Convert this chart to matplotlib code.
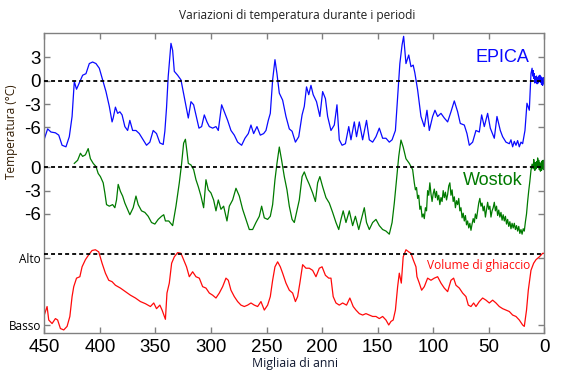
import matplotlib
matplotlib.use("Agg")
import matplotlib.pyplot as plt
import numpy as np

# ---------------- data ----------------
epica_age = [450, 447, 444, 440, 437, 434, 430.5, 427.5, 425, 423, 421, 418, 415.5, 412.5,
             409.5, 406.5, 403.5, 400.5, 397.5, 394.5, 391.5, 389, 388, 386, 384, 382, 380,
             377.5, 375, 373, 370.5, 367.5, 364.5, 361, 358, 355, 352, 349, 346, 343, 341.5,
             340, 338.5, 337, 336, 334.5, 333, 330, 327, 324, 320.4, 318, 315.6, 313.5, 310.8,
             308.4, 306, 303.6, 301.5, 298.5, 295.5, 293.4, 290.4, 288, 285, 282, 279, 276,
             272.4, 269.4, 266.4, 264, 261.6, 258.6, 255.6, 252.6, 250.5, 248.4, 246.6, 244.5,
             242.4, 240.6, 238.5, 235.5, 232.5, 229.5, 227, 224, 221, 218, 216, 214, 212, 210,
             208, 205, 202, 199.5, 197, 195, 192, 189, 186.6, 184.5, 182, 179, 176, 174, 171,
             169, 166.5, 163.5, 160, 157.5, 154.5, 151.5, 148.5, 145.5, 142.5, 139.5, 137, 134,
             132, 130, 128, 126.6, 124.5, 122, 120, 118, 116.5, 114, 112, 111, 108, 105.6,
             103.5, 100.5, 98.4, 96, 93, 90, 87, 84, 81, 78, 75.6, 72, 69.6, 67.5, 64.5, 61.5,
             58.5, 56.4, 54, 51, 48.6, 45, 42.6, 39.6, 37.5, 34.5, 31.5, 30, 28.5, 27, 25.5, 24,
             22.5, 21, 19.5, 17.4, 15.6, 13.5, 12, 11, 10.5, 10, 9.5, 9, 8.5, 8, 7.5, 7, 6.5, 6,
             5.5, 5, 4.5, 4, 3.5, 3, 2.5, 2, 1.5, 1, 0.5, 0]
epica_temp = [-7.5, -6.2, -6.6, -6.7, -7.0, -8.3, -8.5, -7.2, -4.6, -0.1, -1.1, -0.1, 0.7, 0.9,
              2.2, 2.4, 2.2, 1.6, 0.1, -1.4, -3.3, -5.3, -4.8, -3.4, -4.2, -4.0, -4.4,
              -5.9, -6.4, -5.1, -6.4, -6.4, -6.8, -7.6, -8.3, -7.9, -6.4, -6.8, -8.0, -8.2, -6.5,
              -3.5, 0.5, 3.0, 4.8, 3.9, 1.2, 0.7, 0.1, -2.1, -4.8, -2.7, -3.1, -4.4, -6.1,
              -5.9, -4.4, -5.3, -5.9, -6.1, -5.9, -6.4, -3.1, -4.0, -5.1, -6.4, -7.0, -7.9,
              -8.3, -7.4, -6.8, -5.7, -6.8, -5.9, -7.0, -6.8, -6.4, -5.1, -4.2, 0.1,
              2.7, 0.9, -1.6, -2.5, -4.6, -6.2, -6.5, -7.9, -7.2, -4.4, -3.3, -0.8, -1.8, -0.6,
              -1.8, -2.7, -4.6, -1.4, -2.3, -4.6, -6.4, -5.7, -3.1, -7.6, -8.3, -8.1, -5.9, -7.6, -5.3,
              -7.2, -5.3, -7.6, -5.1, -7.6, -7.9, -7.2, -6.1, -7.4, -7.4, -7.9, -7.6, -6.4,
              -2.1, 2.2, 4.6, 5.7, 2.2, 3.3, 1.8, 2.0, 1.0, -1.2, -3.5, -4.6, -5.9, -3.8,
              -6.4, -4.6, -3.8, -4.6, -4.2, -4.8, -5.3, -4.0, -2.6, -4.0, -5.5, -5.7, -6.8, -8.3, -7.9, -6.4,
              -6.6, -4.4, -5.9, -4.2, -6.1, -7.4, -4.6, -6.4, -7.2, -7.9, -8.1, -7.6, -8.5, -7.8, -8.3, -7.7,
              -8.5, -7.9, -8.1, -6.4, -2.9, -3.8, 0.9, 1.6, 0.6, 1.3, 0.3, 0.9, -0.3, 0.5, -0.2, 0.6, -0.4, 0.4,
              -0.3, 0.6, -0.1, 0.7, -0.2, 0.5, -0.5, 0.3, -0.6, 0.4, -0.4, 0.2]

wostok_age = [423, 420, 417.5, 415.5, 413, 410.5, 408.5, 406, 403.5, 401.5, 399.5, 397, 395.5,
              394, 391.5, 388.5, 386.5, 385, 383.5, 381.5, 379.5, 377.5, 373, 370, 367.5, 365.5,
              362.5, 359.5, 356.5, 353.5, 350.5, 347.5, 344.5, 342.5, 341, 338, 334.5, 331.5,
              328.5, 326.4, 324.6, 323, 321.6, 320.4, 318, 315.6, 313.5, 311.4, 309, 306.6,
              304.5, 302.4, 300, 297.6, 295.5, 293.4, 291, 288.6, 285.6, 283.5, 280.5, 277.5,
              274.5, 271.5, 268.5, 265.5, 262.5, 259.5, 256.5, 254.4, 252, 249, 246.6, 244.5,
              242.4, 240.6, 238.5, 236.4, 234, 231.6, 229.5, 227, 225, 223, 220.5, 218, 216, 214,
              211.5, 208.5, 206, 204, 202, 199.5, 196.5, 193.5, 190.5, 187.5, 185, 183, 181,
              178.5, 175.5, 172.5, 170, 167, 164, 162, 160, 157.5, 154.5, 151.5, 148.5, 145.5,
              142.5, 139.5, 137, 135, 133, 131, 129, 127, 124.5, 121.5, 118.5,
              117, 116, 115, 114, 113, 112, 111, 110, 109, 108, 107, 106, 105, 104, 103, 102,
              101, 100, 99, 98, 97, 96, 95, 94, 93, 92, 91, 90, 89, 88, 87, 86, 85, 84, 83, 82,
              81, 80, 79, 78, 77, 76, 75, 74, 73, 72, 71, 70, 69, 68, 67, 66, 65, 64, 63, 62,
              61, 60, 59, 58, 57, 56, 55, 54, 53, 52, 51, 50, 49, 48, 47, 46, 45, 44, 43, 42,
              41, 40, 39, 38, 37, 36, 35, 34, 33, 32, 31, 30, 29, 28, 27, 26, 25, 24, 23, 22,
              21, 20, 19, 18, 17, 16, 15, 14, 13, 12, 11, 10, 9.5, 9, 8.5, 8, 7.5, 7, 6.5, 6,
              5.5, 5, 4.5, 4, 3.5, 3, 2.5, 2, 1.5, 1, 0.5, 0]
wostok_temp = [0.5, 0.9, 1.8, 1.4, 1.6, 2.4, 1.1, 0.5, 0.1, -0.8, -1.2, -2.0, -3.3,
               -4.8, -5.0, -4.8, -5.2, -4.2, -2.2, -3.1, -3.7, -4.6, -6.1, -5.2, -3.7, -4.8,
               -5.6, -5.8, -6.3, -7.1, -7.3, -6.7, -6.3, -6.1, -6.9, -6.9, -7.5, -5.0,
               -2.0, 0.5, 3.1, 3.6, 2.0, 0.5, 0.3, -0.3, -1.6, -2.5, -3.7, -5.2,
               -1.6, -2.9, -3.3, -4.2, -5.6, -4.2, -5.4, -5.0, -6.9, -5.0, -4.2, -2.7,
               -3.7, -5.4, -6.7, -8.0, -8.0, -7.1, -6.3, -5.0, -6.5, -6.7, -6.3, -4.8,
               -1.6, 0.5, 2.6, 0.9, -1.2, -2.9, -5.0, -6.7, -7.1, -5.8, -4.2, -1.2, -0.6, -1.4,
               -2.2, -3.3, -4.4, -2.0, -1.2, -2.5, -3.9, -4.6, -5.8, -7.1, -8.0, -6.7, -5.6,
               -7.1, -5.6, -7.5, -6.3, -8.0, -6.3, -5.2, -7.1, -8.0, -7.1, -6.7, -7.5, -8.0,
               -8.2, -8.6, -7.1, -4.6, -1.6, 1.4, 3.5, 2.6, 1.1, 0.5, -0.3,
               -2.0, -2.9, -2.6, -4.0, -3.6, -5.4, -5.0, -6.4, -6.0, -6.6, -5.2, -5.6, -3.0, -3.6, -2.0, -3.4,
               -4.4, -3.4, -2.8, -3.9, -3.1, -4.2, -3.6, -4.8, -3.9, -4.4, -3.0, -3.9, -3.2, -4.2, -3.5, -2.4,
               -2.0, -3.6, -2.9, -4.4, -3.8, -5.2, -4.3, -4.8, -4.0, -5.6, -5.2, -6.5, -5.9, -6.9, -6.2, -7.4,
               -6.9, -7.8, -7.2, -8.1, -7.3, -6.6, -7.1, -6.0, -6.6, -5.6, -4.6, -4.0, -5.0, -4.6, -5.6, -5.0,
               -6.4, -5.4, -4.5, -5.4, -5.0, -6.4, -5.6, -5.2, -4.5, -5.6, -5.0, -6.2, -5.5, -6.4, -5.8, -6.8,
               -6.1, -6.9, -6.3, -7.3, -6.7, -7.6, -7.0, -7.9, -7.2, -7.8, -7.2, -8.0, -7.5, -8.2, -7.6, -8.5,
               -8.0, -8.6, -7.9, -8.2, -7.0, -6.0, -4.4, -3.0, -1.8, -0.4, 0.4, -0.2, 1.0, 0.2, -0.4, 0.6,
               -0.2, 0.7, 0.0, 1.2, 0.2, 0.9, -0.3, 0.6, -0.5, 0.3, -0.4, 0.8, -0.2, 0.9, -0.3, 0.6]

ice_age = [450, 447.5, 446, 443, 440, 438, 435.5, 432.5, 429.5, 427, 425, 423.5, 421, 418,
           416, 413, 410, 407, 404, 401, 398, 395, 392, 389, 386, 381.5, 377, 372.5, 368,
           363.5, 359, 354.5, 351.5, 349, 346, 344, 341, 339.6, 337.5, 335.4, 333, 330, 327,
           324.6, 322, 319.5, 316.5, 313.5, 310.5, 307.5, 304.5, 301.5, 298.5, 295.5, 292.5,
           289.5, 286.5, 284.4, 282, 279, 276, 273, 270, 267, 264, 261, 258, 255, 252, 249,
           246.6, 244.5, 242.4, 240, 237.6, 235.5, 232.5, 229.5, 226.5, 224, 222, 220, 217.5,
           214.5, 211.5, 208.5, 205.5, 202.5, 200, 197, 194, 192, 190, 187.5, 184.5, 181.5,
           178, 175, 172, 169.5, 166.5, 163.5, 160.5, 157.5, 154.5, 151.5, 148.5, 145.5,
           142.5, 140, 138, 136, 134, 132, 130.5, 128.7, 127, 124.5, 122, 120, 118, 115.5,
           114.6, 112.5, 110.4, 108, 105, 102, 99, 96, 93, 90, 87, 84, 81.6, 79.5, 76.5, 73.5,
           70.5, 68.4, 66, 63.6, 61.5, 58.5, 55.5, 52.5, 49.5, 46.5, 43.5, 40.5, 37.5, 34.5,
           31.5, 28.5, 25.5, 22.5, 19.5, 18, 16, 14.4, 12, 9.6, 7.5, 4.5, 1.5, 0]
ice_level = [0.14, 0.26, 0.07, 0.02, 0.09, 0.07, -0.05, -0.07, -0.02, 0.12, 0.40, 0.54, 0.66, 0.68,
             0.82, 0.92, 0.99, 1.05, 1.06, 1.03, 0.87, 0.73, 0.63, 0.61, 0.56, 0.52, 0.47, 0.42, 0.38,
             0.33, 0.30, 0.26, 0.31, 0.23, 0.28, 0.21, 0.08, 0.45, 0.59, 0.87, 0.96, 1.02, 1.01,
             0.92, 0.82, 0.68, 0.75, 0.68, 0.66, 0.54, 0.52, 0.45, 0.42, 0.38, 0.45,
             0.54, 0.66, 0.63, 0.49, 0.40, 0.33, 0.28, 0.26, 0.28, 0.31, 0.28, 0.26, 0.33, 0.21, 0.28,
             0.40, 0.63, 0.82, 0.89, 0.82, 0.73, 0.59, 0.49, 0.45, 0.33, 0.40, 0.59, 0.85,
             0.80, 0.80, 0.77, 0.68, 0.80, 0.82, 0.70, 0.66, 0.66, 0.40, 0.31, 0.28, 0.31,
             0.28, 0.38, 0.26, 0.21, 0.16, 0.14, 0.16, 0.14, 0.12, 0.12, 0.09, 0.12,
             0.07, 0.0, 0.05, 0.07, 0.21, 0.54, 0.73, 0.59, 0.96, 1.06, 1.03, 1.01, 0.92, 0.82,
             0.68, 0.59, 0.49, 0.54, 0.66, 0.63, 0.66, 0.68, 0.59, 0.52, 0.47, 0.63, 0.66, 0.56, 0.52, 0.45,
             0.40, 0.28, 0.26, 0.31, 0.26, 0.33, 0.38, 0.35, 0.31, 0.35, 0.31, 0.26, 0.23, 0.21,
             0.19, 0.14, 0.12, 0.07, 0.0, -0.02, 0.21, 0.49, 0.77, 0.87, 0.92, 0.96, 1.01, 1.01]

xticks = [450, 400, 350, 300, 250, 200, 150, 100, 50, 0]
epica_ticks = [3, 0, -3, -6]
wostok_ticks = [0, -3, -6]
ice_tick_labels = ["Alto", "Basso"]

# ---------------- layout of the stacked panels ----------------
WOSTOK_OFFSET = -11.13
ICE_LOW = -31.4
ICE_HIGH = -22.28

fig = plt.figure(figsize=(5.64, 3.77), dpi=100)
ax = fig.add_axes([44.3 / 564, 1 - 333.3 / 377, 500 / 564, 300 / 377])

blue = "#0a0aff"
green = "#007a00"
red = "#ff0a0a"

ax.plot(epica_age, epica_temp, color=blue, lw=0.9)
ax.plot(wostok_age, np.array(wostok_temp) + WOSTOK_OFFSET, color=green, lw=0.9)
ax.plot(ice_age, ICE_LOW + np.array(ice_level) * (ICE_HIGH - ICE_LOW), color=red, lw=0.9)

for yy in (0, WOSTOK_OFFSET, ICE_HIGH):
    ax.axhline(yy, color="black", lw=1.3, dashes=(2.2, 1.7), zorder=3)

ax.set_xlim(450, 0)
ax.set_ylim(-32.47, 6.09)

ax.set_xticks(xticks)
ax.set_xticklabels([str(t) for t in xticks], family="Liberation Sans", fontsize=13.5)

ytick_pos = list(epica_ticks) + [t + WOSTOK_OFFSET for t in wostok_ticks] + [ICE_HIGH - 0.45, ICE_LOW]
ytick_lab = [str(t) for t in epica_ticks] + [str(t) for t in wostok_ticks] + ice_tick_labels
ax.set_yticks(ytick_pos)
ax.set_yticklabels(ytick_lab)
for lab in ax.get_yticklabels():
    if lab.get_text() in ice_tick_labels:
        lab.set_fontfamily("Open Sans")
        lab.set_fontsize(8.5)
    else:
        lab.set_fontfamily("Liberation Sans")
        lab.set_fontsize(13.5)

ax.tick_params(axis="both", direction="in", length=4, width=1, color="#808080",
               top=True, right=True, pad=2.5)
ax.tick_params(axis="x", pad=4)
for sp in ax.spines.values():
    sp.set_color("#808080")
    sp.set_linewidth(1)

ax.text(0.971, 0.92, "EPICA", transform=ax.transAxes, ha="right", va="center",
        family="Liberation Sans", fontsize=13, color=blue)
ax.text(0.956, 0.51, "Wostok", transform=ax.transAxes, ha="right", va="center",
        family="Liberation Sans", fontsize=13, color=green)
ax.text(0.972, 0.225, "Volume di ghiaccio", transform=ax.transAxes, ha="right", va="center",
        family="Open Sans", fontsize=8.6, color=red)

fig.text(297 / 564, 1 - 16 / 377, "Variazioni di temperatura durante i periodi",
         ha="center", va="center", family="Open Sans", fontsize=8.6, color="#202020")
fig.text(295 / 564, 1 - 364 / 377, "Migliaia di anni", ha="center", va="center",
         family="Open Sans", fontsize=8.8, color="#101830")
fig.text(12 / 564, 1 - 132 / 377, "Temperatura (°C)", rotation=90, ha="center", va="center",
         family="Open Sans", fontsize=8.5, color="#301a00")

fig.savefig("out.png", dpi=100)
